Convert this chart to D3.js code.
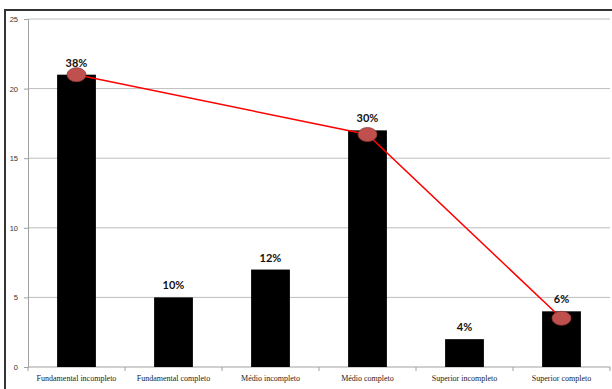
<!DOCTYPE html>
<html>
<head>
<meta charset="utf-8">
<script src="https://cdn.jsdelivr.net/npm/d3@7"></script>
<style>
  html, body { margin: 0; padding: 0; background: #fff; }
  svg { display: block; }
  text { -webkit-font-smoothing: antialiased; }
</style>
</head>
<body>
<svg id="chart" width="612" height="389"></svg>
<script>
// Escolaridade: quantidade por nível e percentual
const categories = [
  "Fundamental incompleto",
  "Fundamental completo",
  "Médio incompleto",
  "Médio completo",
  "Superior incompleto",
  "Superior completo"
];
const counts = [21, 5, 7, 17, 2, 4];
const percentLabels = ["38%", "10%", "12%", "30%", "4%", "6%"];
// Linha de tendência ligando os níveis destacados
const trendCategories = ["Fundamental incompleto", "Médio completo", "Superior completo"];
const trendValues = [21, 16.7, 3.5];
const yTicks = [0, 5, 10, 15, 20, 25];

const svg = d3.select("#chart");
const W = 612, H = 389;
const plot = { left: 28, right: 610, top: 19, bottom: 367 };

// Moldura externa
svg.append("path")
  .attr("d", `M5,${H} L5,10 L${W},10`)
  .attr("fill", "none")
  .attr("stroke", "#333")
  .attr("stroke-width", 2);

const x = d3.scaleBand()
  .domain(categories)
  .range([plot.left, plot.right])
  .paddingInner(0.6)
  .paddingOuter(0.3);

const y = d3.scaleLinear()
  .domain([0, 25])
  .range([plot.bottom, plot.top]);

// Linhas de grade
svg.append("g")
  .selectAll("line")
  .data(yTicks.filter(d => d > 0))
  .join("line")
  .attr("x1", plot.left)
  .attr("x2", plot.right)
  .attr("y1", d => y(d))
  .attr("y2", d => y(d))
  .attr("stroke", "#bdbdbd")
  .attr("stroke-width", 1);

// Eixo Y
const yAxis = svg.append("g")
  .attr("transform", `translate(${plot.left},0)`)
  .call(d3.axisLeft(y).tickValues(yTicks).tickSize(4).tickPadding(6));
yAxis.select(".domain").attr("stroke", "#a0a0a0");
yAxis.selectAll(".tick line").attr("stroke", "#a0a0a0");
yAxis.selectAll("text")
  .attr("font-family", "Liberation Sans, Arial, sans-serif")
  .attr("font-size", 7.5)
  .attr("fill", "#333");

// Eixo X com marcas nas divisões entre categorias
const xAxisG = svg.append("g")
  .attr("transform", `translate(0,${plot.bottom})`);
xAxisG.append("line")
  .attr("x1", plot.left).attr("x2", plot.right)
  .attr("y1", 0).attr("y2", 0)
  .attr("stroke", "#a0a0a0");
const boundaries = d3.range(categories.length + 1)
  .map(i => plot.left + i * (plot.right - plot.left) / categories.length);
xAxisG.selectAll("line.tk")
  .data(boundaries)
  .join("line")
  .attr("class", "tk")
  .attr("x1", d => d).attr("x2", d => d)
  .attr("y1", 0).attr("y2", 4)
  .attr("stroke", "#a0a0a0");
xAxisG.selectAll("text")
  .data(categories)
  .join("text")
  .attr("x", d => x(d) + x.bandwidth() / 2)
  .attr("y", 14)
  .attr("text-anchor", "middle")
  .attr("font-family", "Liberation Serif, Times New Roman, serif")
  .attr("font-size", 8)
  .attr("fill", "#222")
  .text(d => d);

// Barras
svg.append("g")
  .selectAll("rect")
  .data(categories)
  .join("rect")
  .attr("x", d => x(d))
  .attr("width", x.bandwidth())
  .attr("y", (d, i) => y(counts[i]))
  .attr("height", (d, i) => y(0) - y(counts[i]))
  .attr("fill", "#000");

// Linha vermelha e marcadores
const trendPts = trendCategories.map((c, i) => [x(c) + x.bandwidth() / 2, y(trendValues[i])]);
svg.append("path")
  .attr("d", d3.line()(trendPts))
  .attr("fill", "none")
  .attr("stroke", "#ff0000")
  .attr("stroke-width", 1.5);

svg.append("g")
  .selectAll("ellipse")
  .data(trendPts)
  .join("ellipse")
  .attr("cx", d => d[0])
  .attr("cy", d => d[1])
  .attr("rx", 9.5)
  .attr("ry", 7)
  .attr("fill", "#c0504d")
  .attr("stroke", "#8e3a38")
  .attr("stroke-width", 0.8);

// Rótulos percentuais (acima dos marcadores)
svg.append("g")
  .selectAll("text")
  .data(categories)
  .join("text")
  .attr("x", d => x(d) + x.bandwidth() / 2)
  .attr("y", (d, i) => y(counts[i]) - 8)
  .attr("text-anchor", "middle")
  .attr("font-family", "Lato, Open Sans, sans-serif")
  .attr("font-weight", "bold")
  .attr("font-size", 11)
  .attr("fill", "#111")
  .text((d, i) => percentLabels[i]);
</script>
</body>
</html>
